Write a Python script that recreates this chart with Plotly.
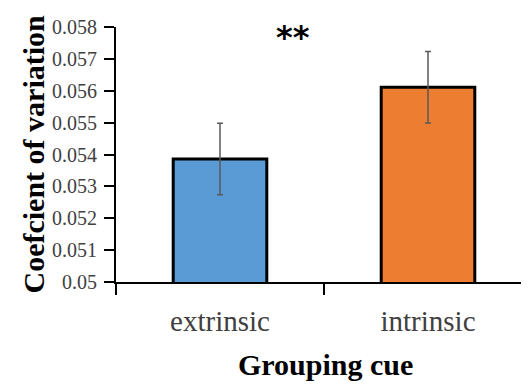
import plotly.graph_objects as go

categories = ["extrinsic", "intrinsic"]
values = [0.05386, 0.05611]
errors = [0.00112, 0.00112]
colors = ["#5B9BD5", "#ED7D31"]

L, R, T, B = 108, 5, 19, 110
W, H = 529, 384
plot_w = W - L - R
plot_h = H - T - B

fig = go.Figure()
fig.add_trace(go.Bar(
    x=categories, y=values,
    marker=dict(color=colors, line=dict(color="black", width=3)),
    error_y=dict(type="data", array=errors, visible=True, color="#5a5a5a", thickness=1.5, width=3),
    showlegend=False,
))

fig.update_layout(
    width=W, height=H,
    margin=dict(l=L, r=R, t=T, b=B, autoexpand=False),
    plot_bgcolor="white", paper_bgcolor="white",
    bargap=0.55,
    font=dict(family="Liberation Serif", color="#404040"),
    xaxis=dict(
        range=[-0.5, 1.5],
        showline=True, linecolor="black", linewidth=2,
        ticks="outside", tickson="boundaries", ticklen=11, tickwidth=2, tickcolor="black",
        tickfont=dict(size=29, family="Liberation Serif", color="#404040"),
        ticklabelstandoff=12,
        showgrid=False, zeroline=False, automargin=False,
    ),
    yaxis=dict(
        range=[0.05, 0.058], dtick=0.001,
        showline=True, linecolor="black", linewidth=2,
        ticks="outside", ticklen=10, tickwidth=2, tickcolor="black",
        tickfont=dict(size=20, family="Liberation Serif", color="#404040"),
        ticklabelstandoff=3,
        showgrid=False, zeroline=False, automargin=False,
    ),
    annotations=[
        dict(text="<b>Coefcient of variation</b>", x=(25 - L) / plot_w, xref="paper", y=0.5, yref="paper",
             textangle=-90, showarrow=False, font=dict(size=30, color="black", family="Liberation Serif"),
             xanchor="center", yanchor="middle"),
        dict(text="<b>Grouping cue</b>", x=(317 - L) / plot_w, xref="paper",
             y=(H - B - 356) / plot_h, yref="paper",
             showarrow=False, font=dict(size=30, color="black", family="Liberation Serif"),
             xanchor="center", yanchor="middle"),
        dict(text="<b>**</b>", x=(285 - L) / plot_w, xref="paper", y=0.0577, yref="y",
             showarrow=False, font=dict(size=32, color="black", family="DejaVu Sans"),
             xanchor="center", yanchor="middle"),
    ],
)

fig.write_html("out.html")
